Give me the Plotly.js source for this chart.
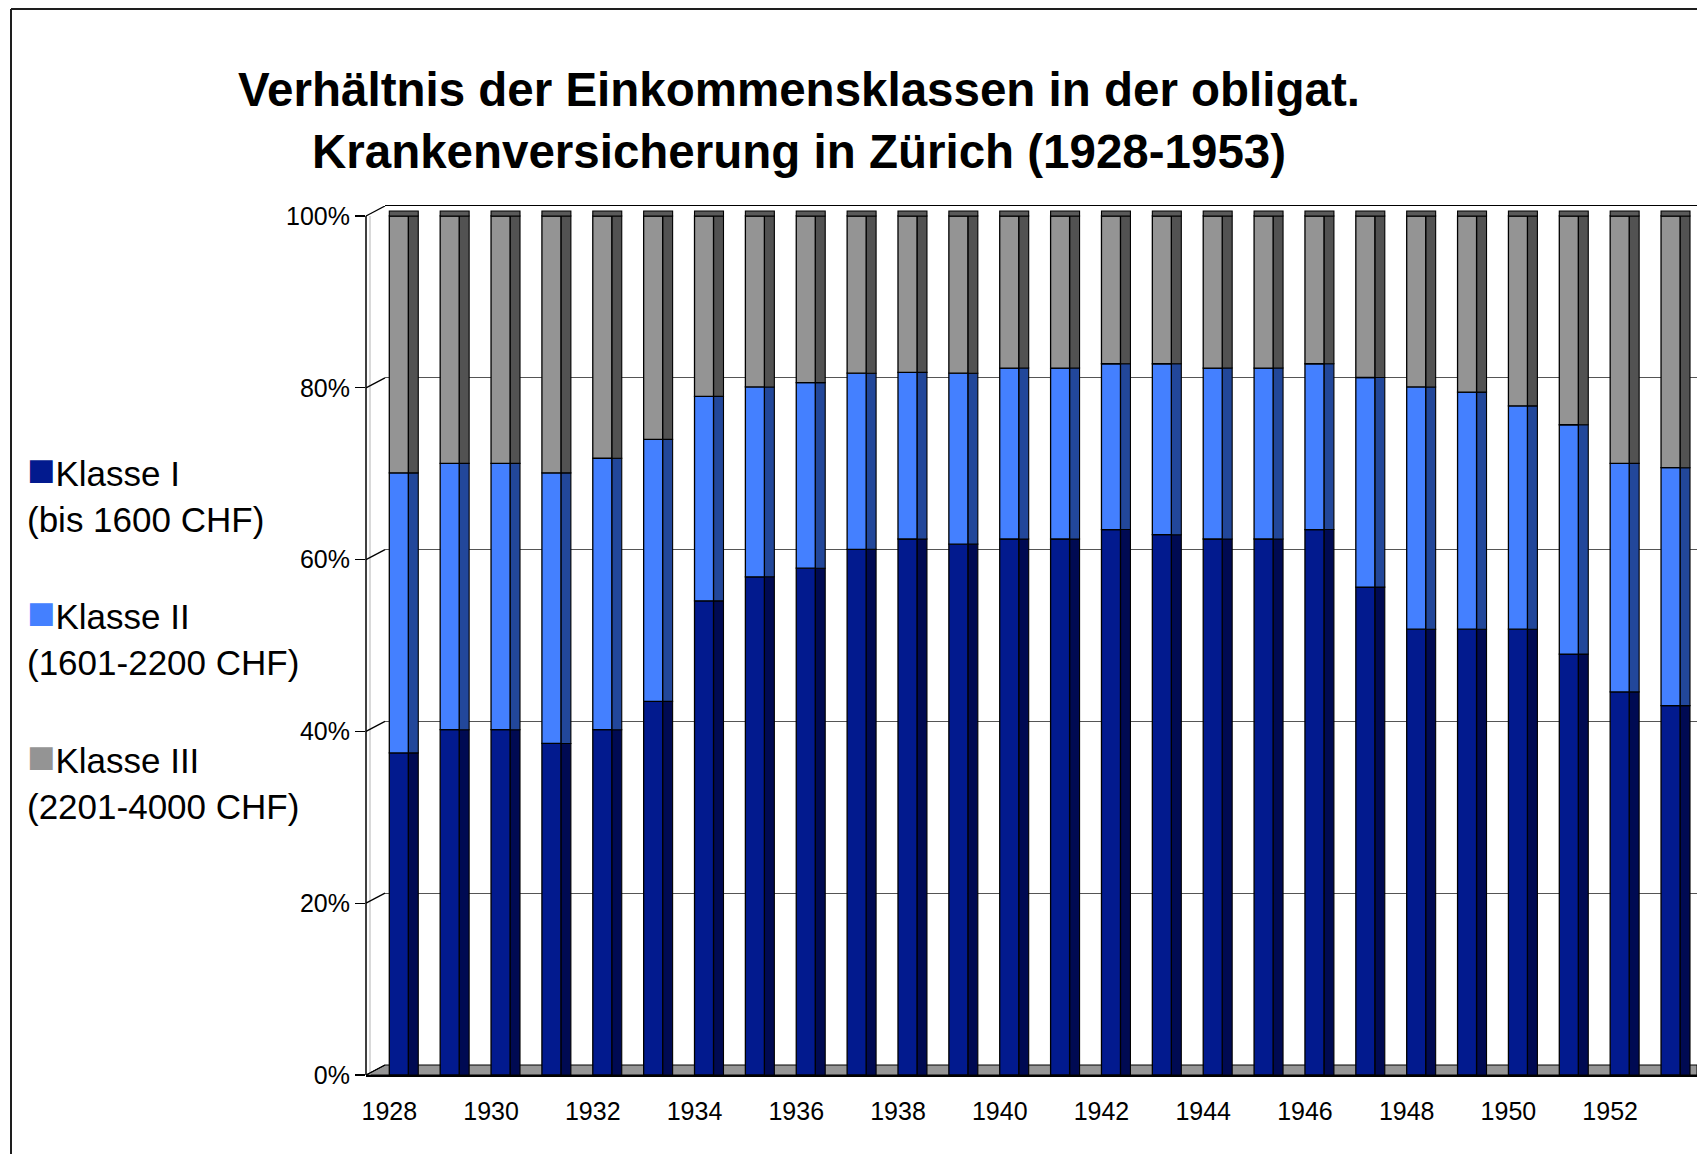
<!DOCTYPE html>
<html>
<head>
<meta charset="utf-8">
<script src="https://cdn.plot.ly/plotly-3.0.1.min.js"></script>
<style>
html,body{margin:0;padding:0;background:#fff;}
#chart{width:1697px;height:1154px;}
</style>
</head>
<body>
<div id="chart"></div>
<script>
// ---- data (share of insured per income class, %) ----
const years = [1928,1929,1930,1931,1932,1933,1934,1935,1936,1937,1938,1939,1940,
               1941,1942,1943,1944,1945,1946,1947,1948,1949,1950,1951,1952,1953];
const klasse1 = [37.5,40.2,40.2,38.6,40.2,43.5,55.2,58.0,59.0,61.2,62.4,61.8,62.4,
                 62.4,63.5,62.9,62.4,62.4,63.5,56.8,51.9,51.9,51.9,49.0,44.6,43.0];
const klasse2 = [32.6,31.0,31.0,31.5,31.6,30.5,23.8,22.1,21.6,20.5,19.4,19.9,19.9,
                 19.9,19.3,19.9,19.9,19.9,19.3,24.4,28.2,27.6,26.0,26.7,26.6,27.7];
const klasse3 = [29.9,28.8,28.8,29.9,28.2,26.0,21.0,19.9,19.4,18.3,18.2,18.3,17.7,
                 17.7,17.2,17.2,17.7,17.7,17.2,18.8,19.9,20.5,22.1,24.3,28.8,29.3];
const seriesNames = ['Klasse I','Klasse II','Klasse III'];
const seriesNotes = ['(bis 1600 CHF)','(1601-2200 CHF)','(2201-4000 CHF)'];
const yTicks = [0,20,40,60,80,100];
const xTicks = [1928,1930,1932,1934,1936,1938,1940,1942,1944,1946,1948,1950,1952];
const titleText = 'Verhältnis der Einkommensklassen in der obligat.<br>Krankenversicherung in Zürich (1928-1953)';

// ---- styling ----
const FONT = '"Liberation Sans", Arial, sans-serif';
const frontColors = ['#021A8E','#4480FF','#949494'];
const sideColors  = ['#000A52','#22479A','#525252'];
const capColor = '#5A5A5A';

const W = 1697, H = 1154, L = 366, T = 206, B = 79;
const plotW = W - L, plotH = H - T - B;
const depthX = 19, depthY = 10;               // 3D wall offset in px
const pxPerUnit = (plotH - depthY) / 100;      // front axis scale
const frontW = 0.3735, sideW = 0.196;          // bar face widths (years)

const series = [klasse1, klasse2, klasse3];
const bases = [];
let acc = years.map(() => 0);
series.forEach(s => { bases.push(acc.slice()); acc = acc.map((v, i) => v + s[i]); });
const totals = acc;

const traces = [];
// empty trace so the back-wall subplot exists
traces.push({type:'scatter', x:[], y:[], xaxis:'x', yaxis:'y', showlegend:false, hoverinfo:'skip'});
series.forEach((s, k) => {
  traces.push({
    type:'bar', name: seriesNames[k] + ' (Seite)', x: years, y: s, base: bases[k],
    offset: frontW, width: sideW, xaxis:'x2', yaxis:'y2', showlegend:false,
    marker:{color: sideColors[k], line:{color:'#000', width:1.1}}, hoverinfo:'skip'
  });
  traces.push({
    type:'bar', name: seriesNames[k], x: years, y: s, base: bases[k],
    offset: 0, width: frontW, xaxis:'x2', yaxis:'y2', showlegend:false,
    marker:{color: frontColors[k], line:{color:'#000', width:1.3}}
  });
});
// top faces of the 3D bars
traces.push({
  type:'bar', name:'top', x: years, y: years.map(() => 5 / pxPerUnit), base: totals,
  offset: 0, width: frontW + sideW, xaxis:'x2', yaxis:'y2', showlegend:false,
  marker:{color: capColor, line:{color:'#000', width:1.1}}, hoverinfo:'skip'
});

const shapes = [];
// outer frame (left + top)
const fx = (11 - L) / plotW, fy = (H - B - 9) / plotH;
shapes.push({type:'line', xref:'paper', yref:'paper', x0:fx, x1:1.1, y0:fy, y1:fy, line:{color:'#1e1e1e', width:2}});
shapes.push({type:'line', xref:'paper', yref:'paper', x0:fx, x1:fx, y0:-0.2, y1:fy, line:{color:'#1e1e1e', width:2}});
// floor
const xb = depthX / plotW, yb = depthY / plotH;
shapes.push({type:'path', xref:'paper', yref:'paper', layer:'below',
  path:`M 0,0 L 1,0 L 1,${yb} L ${xb},${yb} Z`, fillcolor:'#969696', line:{color:'#000', width:1}});
// left wall faint edge
shapes.push({type:'line', xref:'paper', yref:'y2', x0:4/plotW, x1:4/plotW, y0:0, y1:100, line:{color:'#b4b4b4', width:1}});
// front value axis line
shapes.push({type:'line', xref:'paper', yref:'y2', ysizemode:'pixel', yanchor:0,
  x0:0, x1:0, y0:-11, y1: 100 * pxPerUnit, line:{color:'#000', width:1.5}});
// left wall diagonals
yTicks.forEach(v => {
  shapes.push({type:'line', xref:'paper', yref:'y2', ysizemode:'pixel', yanchor:v,
    x0:0, x1:xb, y0:0, y1:depthY, line:{color:'#000', width:1.3}});
});

const annotations = seriesNames.map((n, k) => ({
  xref:'paper', yref:'paper', x:(26 - L) / plotW, xanchor:'left',
  y:[0.6716, 0.5074, 0.3422][k], yanchor:'middle', align:'left', showarrow:false,
  borderpad:0,
  text:`<span style="color:${frontColors[k]};font-size:47px">■</span>${n}<br>${seriesNotes[k]}`,
  font:{family:FONT, size:35, color:'#000'}
}));

const layout = {
  width: W, height: H,
  margin:{l:L, r:0, t:T, b:B, pad:0},
  paper_bgcolor:'#fff', plot_bgcolor:'rgba(0,0,0,0)',
  barmode:'overlay', showlegend:false,
  font:{family:FONT, color:'#000'},
  title:{text:titleText, font:{family:FONT, size:47.5, color:'#000', weight:'bold'},
         xref:'container', x:799/W, xanchor:'center', yref:'container', y:1 - 106/H, yanchor:'top'},
  // back wall
  xaxis:{domain:[xb, 1], anchor:'y', range:[0,1], side:'top', showline:true, linecolor:'#000', linewidth:1.5,
         showgrid:false, zeroline:false, showticklabels:false, ticks:'', fixedrange:true},
  yaxis:{domain:[yb, 1], anchor:'x', range:[0,100], tickvals:yTicks, showticklabels:false, ticks:'',
         showgrid:true, gridcolor:'#555', gridwidth:1.3, zeroline:false, showline:false, fixedrange:true},
  // front (bars)
  xaxis2:{domain:[0,1], anchor:'y2', range:[1927.542, 1953.707], tickvals:xTicks, ticktext:xTicks.map(String),
          ticks:'', ticklabelstandoff:13, tickfont:{family:FONT, size:25, color:'#000'},
          showline:true, linecolor:'#000', linewidth:1.5, showgrid:false, zeroline:false, fixedrange:true},
  yaxis2:{domain:[0,1], anchor:'x2', range:[0, 100 + depthY / pxPerUnit], tickvals:yTicks,
          ticktext:yTicks.map(v => v + '%'), ticks:'outside', ticklen:10, tickwidth:1.3, tickcolor:'#000',
          tickfont:{family:FONT, size:25, color:'#000'}, showline:false, showgrid:false, zeroline:false, fixedrange:true},
  shapes: shapes,
  annotations: annotations
};

Plotly.newPlot('chart', traces, layout, {displayModeBar:false, staticPlot:true});
</script>
</body>
</html>
